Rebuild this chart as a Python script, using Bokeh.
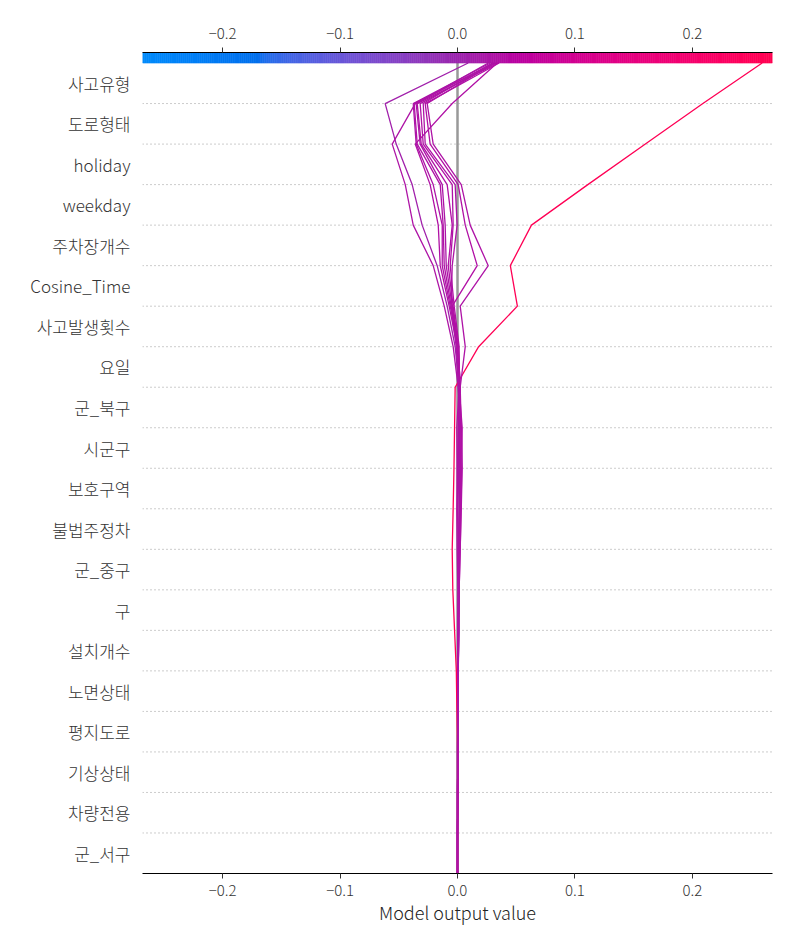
import numpy as np
from bokeh.plotting import figure
from bokeh.models import Range1d, LinearAxis, FixedTicker
from bokeh.embed import file_html
from bokeh.resources import INLINE

# ---------------- data ----------------
features = ["사고유형", "도로형태", "holiday", "weekday", "주차장개수", "Cosine_Time",
            "사고발생횟수", "요일", "군_북구", "시군구", "보호구역", "불법주정차",
            "군_중구", "구", "설치개수", "노면상태", "평지도로", "기상상태", "차량전용", "군_서구"]
base_value = 0.0
x_ticks = [-0.2, -0.1, 0.0, 0.1, 0.2]
x_tick_labels = ["−0.2", "−0.1", "0.0", "0.1", "0.2"]
x_limits = (-0.2683, 0.2683)

# model output after each feature: prediction (top) ... base value (bottom), 21 values
sample_01 = [.0091, -.0616, -.0522, -.0386, -.0301, -.0173, -.0088, -.0020, .0014, .0023, .0014,
             .0020, .0014, .0010, .0014, .0006, .0006, .0003, .0003, 0, 0]
sample_02 = [.0304, -.0360, -.0556, -.0445, -.0377, -.0207, -.0113, -.0037, .0006, .0032, .0040,
             .0032, .0023, .0014, .0010, .0006, .0003, .0003, 0, 0, 0]
sample_03 = [.0338, -.0045, -.0360, -.0233, -.0164, -.0147, -.0071, -.0003, .0014, -.0006, -.0003,
             .0000, .0006, .0010, .0006, .0006, .0003, .0003, .0003, 0, 0]
sample_04 = [.0279, -.0377, -.0352, -.0207, -.0130, -.0130, -.0062, .0006, .0023, .0014, .0006,
             .0014, .0006, .0006, .0006, .0003, .0003, 0, 0, 0, 0]
sample_05 = [.2595, .2090, .1600, .1110, .0630, .0450, .0510, .0180, -.0020, -.0025, -.0030,
             -.0037, -.0045, -.0040, -.0025, -.0010, -.0005, 0, 0, 0, 0]
sample_06 = [.0321, -.0369, -.0343, -.0147, -.0122, -.0113, -.0054, .0006, .0014, .0040, .0036,
             .0030, .0023, .0014, .0010, .0006, .0003, .0003, 0, 0, 0]
sample_07 = [.0262, -.0352, -.0318, -.0130, -.0105, -.0096, -.0045, -.0003, .0006, .0014, .0014,
             .0023, .0014, .0010, .0006, .0003, .0003, .0003, 0, 0, 0]
sample_08 = [.0347, -.0343, -.0309, -.0088, -.0045, -.0079, -.0037, .0006, .0023, .0006, .0000,
             -.0006, -.0003, .0003, .0006, .0003, .0003, 0, 0, 0, 0]
sample_09 = [.0330, -.0318, -.0292, -.0045, -.0037, -.0062, -.0028, .0014, .0014, .0014, .0023,
             .0023, .0014, .0014, .0010, .0006, .0003, .0003, .0003, 0, 0]
sample_10 = [.0296, -.0292, -.0275, -.0020, -.0003, -.0045, -.0054, -.0011, .0014, .0028, .0030,
             .0025, .0018, .0010, .0006, .0003, .0003, 0, 0, 0, 0]
sample_11 = [.0355, -.0275, -.0233, .0006, .0066, .0168, -.0045, .0006, .0023, .0032, .0023,
             .0023, .0014, .0010, .0006, .0006, .0003, .0003, .0003, 0, 0]
sample_12 = [.0313, -.0258, -.0207, .0032, .0108, .0262, .0023, .0066, .0023, .0014, .0014,
             .0014, .0014, .0010, .0006, .0006, .0003, .0003, 0, 0, 0]
samples = [sample_01, sample_02, sample_03, sample_04, sample_05, sample_06,
           sample_07, sample_08, sample_09, sample_10, sample_11, sample_12]

# ---------------- shap red_blue colormap ----------------
_M = np.linalg.inv(np.array([[0.412453, 0.357580, 0.180423],
                             [0.212671, 0.715160, 0.072169],
                             [0.019334, 0.119193, 0.950227]]))


def lch2hex(l, c, h):
    a, b = c * np.cos(h), c * np.sin(h)
    fy = (l + 16.0) / 116.0
    fx = a / 500.0 + fy
    fz = max(fy - b / 200.0, 0.0)

    def finv(t):
        return t ** 3 if t ** 3 > 0.008856 else (t - 16.0 / 116.0) / 7.787

    xyz = np.array([0.95047 * finv(fx), finv(fy), 1.08883 * finv(fz)])
    rgb = _M @ xyz
    out = []
    for v in rgb:
        v = 1.055 * v ** (1 / 2.4) - 0.055 if v > 0.0031308 else 12.92 * v
        out.append(int(round(min(max(v, 0.0), 1.0) * 255)))
    return "#%02x%02x%02x" % tuple(out)


def red_blue(t):
    t = min(max(t, 0.0), 1.0)
    blue_lch = (54.0, 70.0, 4.6588)
    red_lch = (54.0, 90.0, 0.35470565 + 2 * np.pi)
    l_mid = 40.0
    l = blue_lch[0] + (l_mid - blue_lch[0]) * (t / 0.5) if t < 0.5 else l_mid + (red_lch[0] - l_mid) * ((t - 0.5) / 0.5)
    c = blue_lch[1] + (red_lch[1] - blue_lch[1]) * t
    h = blue_lch[2] + (red_lch[2] - blue_lch[2]) * t
    return lch2hex(l, c, h)


# ---------------- figure ----------------
n = len(features)
cb_h = 0.26
p = figure(width=800, height=950, x_range=Range1d(*x_limits), y_range=Range1d(0, n + cb_h),
           min_border_left=142, min_border_right=28, min_border_top=52, min_border_bottom=77,
           output_backend="svg", toolbar_location=None)
p.outline_line_color = None
p.xgrid.visible = False
p.ygrid.visible = False
p.background_fill_color = "white"
p.border_fill_color = "white"

font = "'Noto Sans CJK KR Light', 'Noto Sans CJK KR'"

# dotted separators
for i in range(1, n):
    p.segment(x0=x_limits[0], y0=i, x1=x_limits[1], y1=i, line_color="#999999",
              line_width=1, line_dash="1 3")

# base value line
p.segment(x0=base_value, y0=0, x1=base_value, y1=n, line_color="#999999", line_width=2.5)

# decision lines
levels = list(range(n, -1, -1))
span = x_limits[1] - x_limits[0]
for s in samples:
    col = red_blue((s[0] - x_limits[0]) / span)
    p.line(s, levels, line_color=col, line_width=1.3)

# colour bar
nb = 300
edges = np.linspace(x_limits[0], x_limits[1], nb + 1)
cols = [red_blue((i + 0.5) / nb) for i in range(nb)]
p.quad(left=edges[:-1], right=edges[1:], bottom=n, top=n + cb_h, fill_color=cols,
       line_color=cols, line_width=0.6)

# axes
ticker = FixedTicker(ticks=x_ticks)
overrides = {t: lab for t, lab in zip(x_ticks, x_tick_labels)}
overrides.update({str(t): lab for t, lab in zip(x_ticks, x_tick_labels)})

xa = p.xaxis[0]
xa.ticker = ticker
xa.major_label_overrides = overrides
xa.minor_tick_line_color = None
xa.major_tick_in = 0
xa.major_tick_out = 5
xa.axis_line_color = "black"
xa.major_tick_line_color = "#333333"
xa.major_label_text_font = font
xa.major_label_text_font_size = "15px"
xa.major_label_text_color = "#333333"
xa.major_label_standoff = 6
xa.axis_label = "Model output value"
xa.axis_label_text_font = font
xa.axis_label_text_font_size = "18px"
xa.axis_label_text_font_style = "normal"
xa.axis_label_text_color = "#222222"
xa.axis_label_standoff = 0

top = LinearAxis(ticker=FixedTicker(ticks=x_ticks), major_label_overrides=overrides)
top.minor_tick_line_color = None
top.major_tick_in = 0
top.major_tick_out = 5
top.axis_line_color = "black"
top.major_tick_line_color = "#333333"
top.major_label_text_font = font
top.major_label_text_font_size = "15px"
top.major_label_text_color = "#333333"
top.major_label_standoff = 9
p.add_layout(top, "above")

ya = p.yaxis[0]
yt = [i + 0.5 for i in range(n)]
ya.ticker = FixedTicker(ticks=yt)
ya.major_label_overrides = {y: features[n - 1 - i] for i, y in enumerate(yt)}
ya.axis_line_color = None
ya.major_tick_line_color = None
ya.minor_tick_line_color = None
ya.major_label_standoff = 6
ya.major_label_text_font = font
ya.major_label_text_font_size = "17px"
ya.major_label_text_color = "#333333"

open("out.html", "w").write(file_html(p, INLINE))
